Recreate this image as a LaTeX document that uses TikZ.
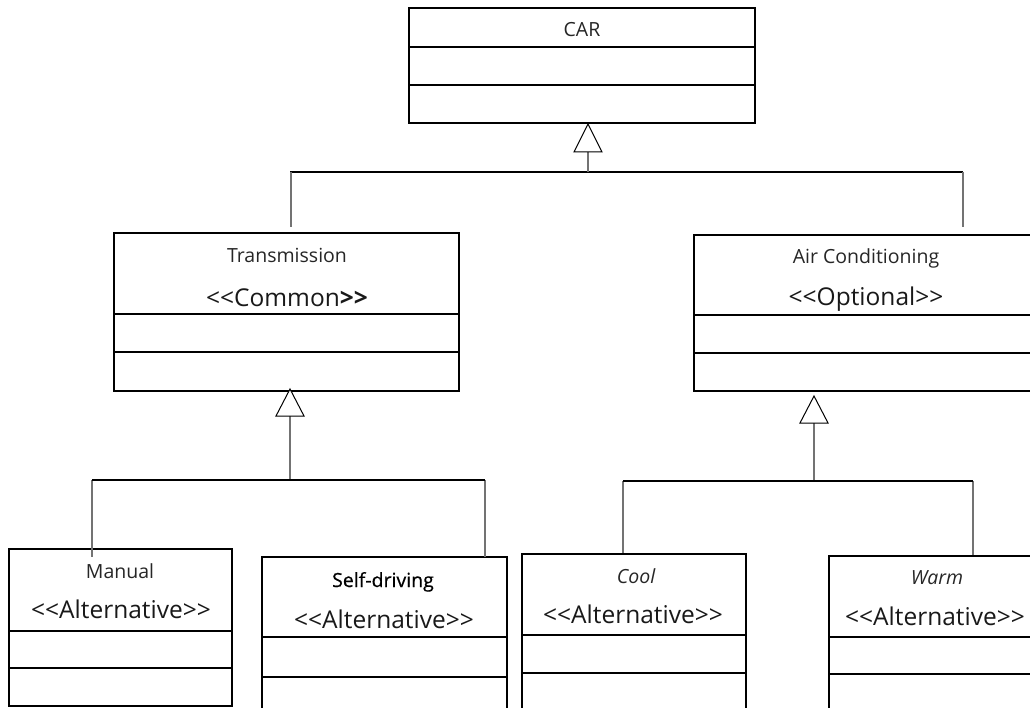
\documentclass[tikz,border=0pt]{standalone}
\usepackage{fontspec}
\setmainfont{Open Sans}[Ligatures=NoCommon]
\newfontfamily\semibold{Open Sans}[FakeBold=0.6]

% One UML class: name, x, y of the top-left corner, width,
% offsets of the two compartment rules from the top, total height
\newcommand\umlclass[7]{%
  \node[classframe, minimum width=#4pt, minimum height=#7pt] (#1) at (#2,#3) {};
  \draw[classrule] ([yshift=-#5pt]#1.north west) -- ([yshift=-#5pt]#1.north east);
  \draw[classrule] ([yshift=-#6pt]#1.north west) -- ([yshift=-#6pt]#1.north east);
}
% guillemet-free stereotype brackets
\newcommand\stopen{<{}<}
\newcommand\stclose{>{}>}

\tikzset{
  classframe/.style={draw=black, line width=1.1pt, anchor=north west,
    inner sep=0pt, outer sep=0pt, fill=white},
  classrule/.style={draw=black, line width=1.1pt},
  titletext/.style={anchor=base, inner sep=0pt, text=black!85,
    font=\fontsize{19.5}{22}\selectfont},
  stereotext/.style={anchor=base, inner sep=0pt, text=black!90,
    font=\fontsize{24.5}{26}\selectfont},
  gentri/.style={draw=black, line width=1pt, fill=white, line join=miter},
  stem/.style={draw=black!55, line width=1.6pt},
  bar/.style={draw=black, line width=1.7pt},
}

\begin{document}
\begin{tikzpicture}[x=1pt, y=-1pt]
  \useasboundingbox (0,0) rectangle (1030,708);
  \fill[white] (0,0) rectangle (1030,708);
  \clip (0,0) rectangle (1030,708);

  % ---- classes ----
  \umlclass{car}{409}{8}{346}{39}{77}{115}
  \umlclass{trans}{114}{233}{345}{81}{119}{158}
  \umlclass{air}{694}{235}{342}{80}{118}{156}
  \umlclass{manual}{9}{549}{223}{82}{119}{157}
  \umlclass{self}{262}{557}{245}{80}{120}{170}
  \umlclass{cool}{522}{554}{224}{81}{119}{170}
  \umlclass{warm}{829}{556}{214}{81}{118}{170}

  % ---- class names and stereotypes ----
  \node[titletext] (car-t) at (582,37) {CAR};
  \node[titletext] (trans-t) at (287,263) {Transmission};
  \node[stereotext] (trans-s) at (287,307) {\stopen Common{\bfseries \stclose}};
  \node[titletext] (air-t) at (866,264) {Air Conditioning};
  \node[stereotext] (air-s) at (866,306) {\stopen Optional\stclose};
  \node[titletext] (manual-t) at (120,578) {Manual};
  \node[stereotext] (manual-s) at (121,618) {\stopen Alternative\stclose};
  \node[titletext, text=black] (self-t) at (383,587) {\semibold Self-driving};
  \node[stereotext] (self-s) at (384,628) {\stopen Alternative\stclose};
  \node[titletext] (cool-t) at (636,583) {\itshape Cool};
  \node[stereotext] (cool-s) at (633,623) {\stopen Alternative\stclose};
  \node[titletext] (warm-t) at (937,584) {\itshape Warm};
  \node[stereotext] (warm-s) at (935,625) {\stopen Alternative\stclose};

  % ---- generalisation: CAR <- Transmission, Air Conditioning ----
  \coordinate (g1-apex) at (588,124);
  \coordinate (g1-base) at (588,152);
  \coordinate (g1-join) at (588,172);
  \coordinate (g1-left) at (290,172);
  \coordinate (g1-right) at (963,172);
  \coordinate (trans-hook) at (291,227);
  \coordinate (air-hook) at (963,227);
  \draw[bar] (g1-left) -- (g1-right);
  \draw[stem] (g1-join) -- (g1-base);
  \draw[stem] (g1-left -| trans-hook) -- (trans-hook);
  \draw[stem] (g1-right -| air-hook) -- (air-hook);
  \draw[gentri] (g1-apex) -- ++(-14,28) -- ++(28,0) -- cycle;

  % ---- generalisation: Transmission <- Manual, Self-driving ----
  \coordinate (g2-apex) at (290,389);
  \coordinate (g2-base) at (290,416);
  \coordinate (g2-join) at (290,480);
  \coordinate (g2-left) at (92,480);
  \coordinate (g2-right) at (485,480);
  \coordinate (manual-hook) at (92,557);
  \coordinate (self-hook) at (485,557);
  \draw[stem] (g2-join) -- (g2-base);
  \draw[stem] (g2-left) -- (manual-hook);
  \draw[stem] (g2-right) -- (self-hook);
  \draw[bar] (g2-left) -- (g2-right);
  \draw[gentri] (g2-apex) -- ++(-14,27) -- ++(28,0) -- cycle;

  % ---- generalisation: Air Conditioning <- Cool, Warm ----
  \coordinate (g3-apex) at (814,396);
  \coordinate (g3-base) at (814,423);
  \coordinate (g3-join) at (814,481);
  \coordinate (g3-left) at (623,481);
  \coordinate (g3-right) at (973,481);
  \coordinate (cool-hook) at (623,553);
  \coordinate (warm-hook) at (973,555);
  \draw[stem] (g3-join) -- (g3-base);
  \draw[stem] (g3-left) -- (cool-hook);
  \draw[stem] (g3-right) -- (warm-hook);
  \draw[bar] (g3-left) -- (g3-right);
  \draw[gentri] (g3-apex) -- ++(-14,27) -- ++(28,0) -- cycle;
\end{tikzpicture}
\end{document}
